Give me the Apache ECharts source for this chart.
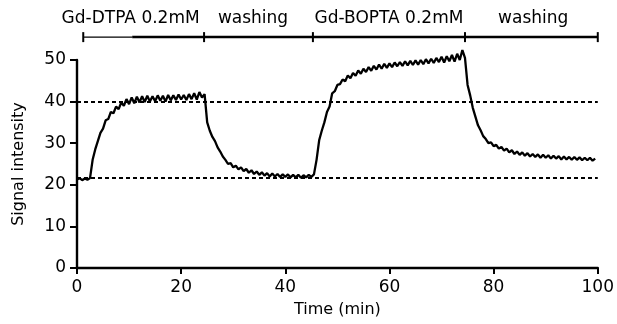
<!DOCTYPE html>
<html><head><meta charset="utf-8">
<script src="https://cdn.jsdelivr.net/npm/echarts@6/dist/echarts.min.js"></script>
<style>html,body{margin:0;padding:0;background:#fff}#c{width:617px;height:324px}</style>
</head><body><div id="c"></div>
<script>
// Time (min)
const timeMin = [
0,0.5,1,1.5,2,2.5,3,3.5,4,4.5,5,5.5,6,6.5,7,7.5,8,8.5,9,9.5,
10,10.5,11,11.5,12,12.5,13,13.5,14,14.5,15,15.5,16,16.5,17,17.5,18,18.5,19,19.5,
20,20.5,21,21.5,22,22.5,23,23.5,24,24.5,25,25.5,26,26.5,27,27.5,28,28.5,29,29.5,
30,30.5,31,31.5,32,32.5,33,33.5,34,34.5,35,35.5,36,36.5,37,37.5,38,38.5,39,39.5,
40,40.5,41,41.5,42,42.5,43,43.5,44,44.5,45,45.5,46,46.5,47,47.5,48,48.5,49,49.5,
50,50.5,51,51.5,52,52.5,53,53.5,54,54.5,55,55.5,56,56.5,57,57.5,58,58.5,59,59.5,
60,60.5,61,61.5,62,62.5,63,63.5,64,64.5,65,65.5,66,66.5,67,67.5,68,68.5,69,69.5,
70,70.5,71,71.5,72,72.5,73,73.5,74,74.5,75,75.5,76,76.5,77,77.5,78,78.5,79,79.5,
80,80.5,81,81.5,82,82.5,83,83.5,84,84.5,85,85.5,86,86.5,87,87.5,88,88.5,89,89.5,
90,90.5,91,91.5,92,92.5,93,93.5,94,94.5,95,95.5,96,96.5,97,97.5,98,98.5,99,99.5
];
// Signal intensity
const signal = [
21.3,21.6,21.1,21.5,21.2,21.6,26.0,28.5,30.5,32.5,33.5,35.5,35.8,37.5,37.2,38.8,38.2,39.8,39.0,40.6,
39.4,41.0,39.6,41.2,39.8,41.3,39.9,41.4,40.0,41.3,40.1,41.5,40.2,41.4,40.0,41.6,40.3,41.5,40.4,41.7,
40.5,41.6,40.4,41.8,40.6,42.0,40.5,42.3,41.0,41.8,35.0,33.0,31.5,30.5,29.0,28.0,26.8,26.0,25.0,25.2,
24.2,24.6,23.7,24.2,23.3,23.8,22.9,23.5,22.6,23.2,22.4,23.0,22.2,22.8,22.0,22.7,22.0,22.6,21.9,22.5,
21.9,22.5,21.8,22.4,21.8,22.4,21.7,22.3,21.8,22.4,21.9,22.5,26.0,30.7,33.0,35.0,37.5,38.8,42.0,42.5,
44.0,44.2,45.3,44.9,46.3,45.6,46.9,46.2,47.5,46.7,47.9,47.1,48.3,47.4,48.6,47.7,48.9,47.9,49.1,48.1,
49.2,48.3,49.4,48.5,49.5,48.6,49.7,48.7,49.8,48.8,49.9,48.9,50.0,49.0,50.2,49.2,50.3,49.3,50.5,49.5,
50.8,49.4,50.9,49.7,51.2,49.6,51.5,50.0,52.4,50.5,44.0,41.5,38.5,36.4,34.3,33.1,31.7,31.0,30.0,30.2,
29.3,29.6,28.7,29.1,28.2,28.7,27.8,28.3,27.4,28.0,27.2,27.8,27.0,27.6,26.8,27.4,26.7,27.3,26.5,27.2,
26.5,27.1,26.3,27.0,26.3,26.9,26.1,26.8,26.1,26.7,26.0,26.7,26.0,26.6,25.9,26.5,25.9,26.5,25.8,26.3
];
// Reference levels (dashed)
const refLevels = [40, 21.7];
// Phase boundaries (min) and phase labels
const phaseBounds = [1.2, 24.4, 45.3, 74.5, 100];
const phaseLabels = ['Gd-DTPA 0.2mM', 'washing', 'Gd-BOPTA 0.2mM', 'washing'];
const phaseLabelCenters = [10.3, 33.8, 59.9, 87.6];

const FONT = 'DejaVu Sans';
const chart = echarts.init(document.getElementById('c'), null, {renderer: 'canvas'});
const pts = timeMin.map((t, i) => [t, signal[i]]);
const BAR_Y = 55.5;

chart.setOption({
  animation: false,
  backgroundColor: '#fff',
  textStyle: {fontFamily: FONT, color: '#000'},
  grid: {left: 77, right: 18, top: 60, bottom: 56, containLabel: false},
  xAxis: {
    type: 'value', min: 0, max: 100, interval: 20,
    name: 'Time (min)', nameLocation: 'middle', nameGap: 34,
    nameTextStyle: {fontSize: 16, color: '#000', fontFamily: FONT},
    axisLine: {lineStyle: {color: '#000', width: 2.4}},
    axisTick: {show: true, length: 6, lineStyle: {color: '#000', width: 2}},
    axisLabel: {fontSize: 17, color: '#000', margin: 11, fontFamily: FONT},
    splitLine: {show: false}
  },
  yAxis: {
    type: 'value', min: 0, max: 50, interval: 10,
    name: 'Signal intensity', nameLocation: 'middle', nameGap: 50,
    nameTextStyle: {fontSize: 16, color: '#000', fontFamily: FONT},
    axisLine: {show: true, lineStyle: {color: '#000', width: 2.4}},
    axisTick: {show: true, length: 7, lineStyle: {color: '#000', width: 2}},
    axisLabel: {fontSize: 17, color: '#000', margin: 11, fontFamily: FONT},
    splitLine: {show: false}
  },
  series: [
    {
      type: 'line', data: pts, showSymbol: false, symbol: 'none', clip: false,
      lineStyle: {color: '#000', width: 2.3}, z: 3,
      markLine: {
        silent: true, symbol: 'none', label: {show: false},
        lineStyle: {color: '#000', width: 2, type: [4, 3]},
        data: refLevels.map(v => ({yAxis: v}))
      }
    },
    {
      type: 'custom', clip: false, silent: true, z: 4,
      data: phaseLabels.map((l, i) => [i]),
      renderItem: function (params, api) {
        const i = api.value(0);
        const a = api.coord([phaseBounds[i], BAR_Y]);
        const b = api.coord([phaseBounds[i + 1], BAR_Y]);
        const c = api.coord([phaseLabelCenters[i], BAR_Y]);
        const children = [];
        if (i === 0) {
          const m = api.coord([10.6, BAR_Y]);
          children.push({type: 'line', shape: {x1: a[0], y1: a[1], x2: m[0], y2: m[1]}, style: {stroke: '#000', lineWidth: 1.2}});
          children.push({type: 'line', shape: {x1: m[0], y1: m[1], x2: b[0], y2: b[1]}, style: {stroke: '#000', lineWidth: 2.5}});
        } else {
          children.push({type: 'line', shape: {x1: a[0], y1: a[1], x2: b[0], y2: b[1]}, style: {stroke: '#000', lineWidth: 2.5}});
        }
        children.push({type: 'line', shape: {x1: a[0], y1: a[1] - 5, x2: a[0], y2: a[1] + 5}, style: {stroke: '#000', lineWidth: 2}});
        if (i === phaseLabels.length - 1) {
          children.push({type: 'line', shape: {x1: b[0], y1: b[1] - 5, x2: b[0], y2: b[1] + 5}, style: {stroke: '#000', lineWidth: 2}});
        }
        children.push({type: 'text', style: {text: phaseLabels[i], x: c[0], y: c[1] - 19, textAlign: 'center', textVerticalAlign: 'middle', fill: '#000', fontSize: 17, fontFamily: FONT}});
        return {type: 'group', children: children};
      }
    }
  ]
});
</script>
</body></html>
